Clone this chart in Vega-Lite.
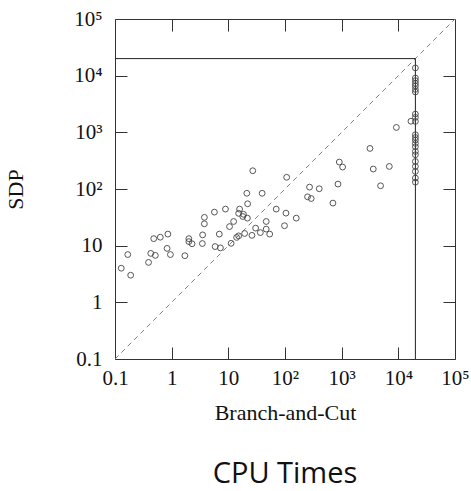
{
  "$schema": "https://vega.github.io/schema/vega-lite/v6.json",
  "width": 340,
  "height": 340,
  "autosize": {"type": "none"},
  "padding": {"left": 115, "top": 19, "right": 16, "bottom": 132},
  "background": "white",
  "config": {"view": {"stroke": "#333", "strokeWidth": 1}},
  "title": {"text": "CPU Times", "orient": "bottom", "anchor": "middle", "font": "Open Sans", "fontSize": 29, "fontWeight": "normal", "color": "#111", "offset": 37},
  "datasets": {
    "pts": [
      {"bc": 27.0, "sdp": 210}, {"bc": 107, "sdp": 161}, {"bc": 21.2, "sdp": 84}, {"bc": 39.5, "sdp": 84},
      {"bc": 21.9, "sdp": 54.8}, {"bc": 15.8, "sdp": 44.2}, {"bc": 8.9, "sdp": 44.2}, {"bc": 5.68, "sdp": 39.1},
      {"bc": 15.2, "sdp": 37.2}, {"bc": 18.5, "sdp": 35.8}, {"bc": 18.0, "sdp": 32.7}, {"bc": 21.7, "sdp": 30.6},
      {"bc": 3.78, "sdp": 31.6}, {"bc": 3.78, "sdp": 24.3}, {"bc": 70, "sdp": 44.2}, {"bc": 104, "sdp": 37.5},
      {"bc": 158, "sdp": 30.6}, {"bc": 46.6, "sdp": 26.7}, {"bc": 12.4, "sdp": 26.7}, {"bc": 10.5, "sdp": 21.7},
      {"bc": 30.3, "sdp": 20.4}, {"bc": 46.6, "sdp": 19.6}, {"bc": 98, "sdp": 22.5}, {"bc": 36.7, "sdp": 17.0},
      {"bc": 53.7, "sdp": 16.0}, {"bc": 19.4, "sdp": 16.4}, {"bc": 26.1, "sdp": 15.2}, {"bc": 15.2, "sdp": 14.9},
      {"bc": 14.0, "sdp": 14.0}, {"bc": 11.2, "sdp": 11.0}, {"bc": 6.93, "sdp": 16.0}, {"bc": 3.52, "sdp": 15.5},
      {"bc": 5.85, "sdp": 9.64}, {"bc": 7.25, "sdp": 9.14}, {"bc": 3.48, "sdp": 10.9}, {"bc": 2.01, "sdp": 13.3},
      {"bc": 2.01, "sdp": 11.8}, {"bc": 2.29, "sdp": 10.8}, {"bc": 0.857, "sdp": 16.0}, {"bc": 0.63, "sdp": 14.1},
      {"bc": 0.483, "sdp": 13.3}, {"bc": 0.83, "sdp": 8.95}, {"bc": 0.95, "sdp": 6.97}, {"bc": 1.71, "sdp": 6.65},
      {"bc": 0.515, "sdp": 6.74}, {"bc": 0.428, "sdp": 7.31}, {"bc": 0.391, "sdp": 5.07}, {"bc": 0.168, "sdp": 6.97},
      {"bc": 0.129, "sdp": 4.0}, {"bc": 0.189, "sdp": 3.01},
      {"bc": 9230, "sdp": 1220}, {"bc": 3160, "sdp": 520}, {"bc": 908, "sdp": 299}, {"bc": 1040, "sdp": 244},
      {"bc": 3610, "sdp": 225}, {"bc": 6930, "sdp": 250}, {"bc": 4860, "sdp": 114}, {"bc": 861, "sdp": 122},
      {"bc": 271, "sdp": 108}, {"bc": 402, "sdp": 101}, {"bc": 250, "sdp": 72.8}, {"bc": 290, "sdp": 67.9},
      {"bc": 701, "sdp": 56.4}, {"bc": 16700, "sdp": 1570},
      {"bc": 20000, "sdp": 13700}, {"bc": 20000, "sdp": 9100}, {"bc": 20000, "sdp": 8160}, {"bc": 20000, "sdp": 7310},
      {"bc": 20000, "sdp": 6580}, {"bc": 20000, "sdp": 5730}, {"bc": 20000, "sdp": 5150}, {"bc": 20000, "sdp": 2100},
      {"bc": 20000, "sdp": 1840}, {"bc": 20000, "sdp": 1560}, {"bc": 20000, "sdp": 908}, {"bc": 20000, "sdp": 813},
      {"bc": 20000, "sdp": 731}, {"bc": 20000, "sdp": 637}, {"bc": 20000, "sdp": 557}, {"bc": 20000, "sdp": 460},
      {"bc": 20000, "sdp": 402}, {"bc": 20000, "sdp": 306}, {"bc": 20000, "sdp": 250}, {"bc": 20000, "sdp": 204},
      {"bc": 20000, "sdp": 156}, {"bc": 20000, "sdp": 132}
    ],
    "diag": [{"bc": 0.1, "sdp": 0.1}, {"bc": 100000, "sdp": 100000}],
    "limits": [
      {"x1": 0.1, "x2": 20000, "y1": 20000, "y2": 20000},
      {"x1": 20000, "x2": 20000, "y1": 0.1, "y2": 20000}
    ]
  },
  "resolve": {"axis": {"x": "independent", "y": "independent"}},
  "layer": [
    {
      "data": {"name": "diag"},
      "mark": {"type": "line", "color": "#808080", "strokeWidth": 1, "strokeDash": [5, 4]},
      "encoding": {
        "x": {"field": "bc", "type": "quantitative",
          "scale": {"type": "log", "domain": [0.1, 100000], "nice": false},
          "axis": {"orient": "bottom", "offset": -12, "domain": false, "title": "Branch-and-Cut", "values": [0.1, 1, 10, 100, 1000, 10000, 100000],
            "labelExpr": "datum.value < 0.5 ? '0.1' : datum.value < 5 ? '1' : datum.value < 50 ? '10' : datum.value < 500 ? '10²' : datum.value < 5000 ? '10³' : datum.value < 50000 ? '10⁴' : '10⁵'",
            "labelFont": "Liberation Serif", "labelFontSize": 21, "labelColor": "#111", "labelPadding": 8,
            "titleFont": "Liberation Serif", "titleFontSize": 22, "titleFontWeight": "normal", "titleColor": "#111", "titlePadding": 14,
            "ticks": true, "tickSize": 12, "tickColor": "#333", "grid": false, "labelFlush": false, "labelOverlap": false}},
        "y": {"field": "sdp", "type": "quantitative",
          "scale": {"type": "log", "domain": [0.1, 100000], "nice": false},
          "axis": {"orient": "left", "offset": -12, "domain": false, "title": "SDP", "values": [0.1, 1, 10, 100, 1000, 10000, 100000],
            "labelExpr": "datum.value < 0.5 ? '0.1' : datum.value < 5 ? '1' : datum.value < 50 ? '10' : datum.value < 500 ? '10²' : datum.value < 5000 ? '10³' : datum.value < 50000 ? '10⁴' : '10⁵'",
            "labelFont": "Liberation Serif", "labelFontSize": 21, "labelColor": "#111", "labelPadding": 13,
            "titleFont": "Liberation Serif", "titleFontSize": 22, "titleFontWeight": "normal", "titleColor": "#111", "titlePadding": 46,
            "ticks": true, "tickSize": 12, "tickColor": "#333", "grid": false, "labelFlush": false, "labelOverlap": false}}
      }
    },
    {
      "data": {"name": "limits"},
      "mark": {"type": "rule", "color": "#222", "strokeWidth": 1},
      "encoding": {
        "x": {"field": "x1", "type": "quantitative", "scale": {"type": "log", "domain": [0.1, 100000], "nice": false}, "axis": null},
        "x2": {"field": "x2"},
        "y": {"field": "y1", "type": "quantitative", "scale": {"type": "log", "domain": [0.1, 100000], "nice": false}, "axis": null},
        "y2": {"field": "y2"}
      }
    },
    {
      "data": {"name": "pts"},
      "mark": {"type": "point", "shape": "circle", "filled": false, "stroke": "#444", "strokeWidth": 0.9, "size": 34, "opacity": 1},
      "encoding": {
        "x": {"field": "bc", "type": "quantitative", "scale": {"type": "log", "domain": [0.1, 100000], "nice": false}, "axis": null},
        "y": {"field": "sdp", "type": "quantitative", "scale": {"type": "log", "domain": [0.1, 100000], "nice": false}, "axis": null}
      }
    },
    {
      "data": {"name": "diag"},
      "mark": {"type": "line", "opacity": 0},
      "encoding": {
        "x": {"field": "bc", "type": "quantitative", "scale": {"type": "log", "domain": [0.1, 100000], "nice": false},
          "axis": {"orient": "top", "offset": -12, "domain": false, "title": null, "labels": false, "values": [1, 10, 100, 1000, 10000],
            "ticks": true, "tickSize": 12, "tickColor": "#333", "grid": false}},
        "y": {"field": "sdp", "type": "quantitative", "scale": {"type": "log", "domain": [0.1, 100000], "nice": false},
          "axis": {"orient": "right", "offset": -12, "domain": false, "title": null, "labels": false, "values": [1, 10, 100, 1000, 10000],
            "ticks": true, "tickSize": 12, "tickColor": "#333", "grid": false}}
      }
    }
  ]
}
